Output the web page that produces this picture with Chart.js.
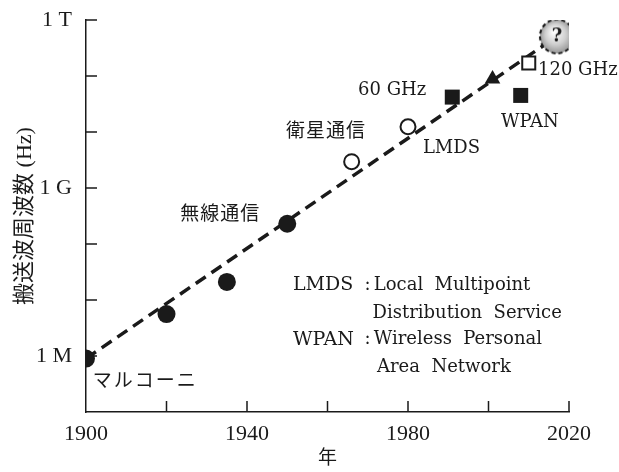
<!DOCTYPE html>
<html>
<head>
<meta charset="utf-8">
<script src="https://cdn.jsdelivr.net/npm/chart.js@4"></script>
<style>
  body { margin: 0; background: #fff; }
</style>
</head>
<body>
<canvas id="freqChart" width="619" height="472"></canvas>
<script>
// values (year, carrier frequency in Hz)
const earlyYears = [1900, 1920, 1935, 1950];
const earlyHz = [9e5, 5.6e6, 2.1e7, 2.3e8];

const satYears = [1966, 1980];
const satHz = [2.95e9, 1.24e10];

const mmYears = [1991, 2008];
const mmHz = [4.2e10, 4.5e10];

const triYears = [2001];
const triHz = [8.8e10];

const ghz120Years = [2010];
const ghz120Hz = [1.7e11];

const futureYears = [2017];
const futureHz = [5.1e11];

const trendYears = [1900, 2017];
const trendHz = [9e5, 5.1e11];

const xTicks = [1900, 1920, 1940, 1960, 1980, 2000, 2020];
const yTicks = [1e5, 1e6, 1e7, 1e8, 1e9, 1e10, 1e11, 1e12];
const yTickLabels = {1e6: '1 M', 1e9: '1 G', 1e12: '1 T'};

const ink = '#1a1a1a';
const serif = "'DejaVu Serif', serif";
const jp = "'Noto Sans CJK JP', sans-serif";

const toPoints = (xs, ys) => xs.map((x, i) => ({x: x, y: ys[i]}));

// the "?" bubble used as a point style
function makeBubble() {
    const c = document.createElement('canvas');
    c.width = 40;
    c.height = 40;
    const g = c.getContext('2d');
    const grad = g.createRadialGradient(17, 15, 1, 20, 20, 18);
    grad.addColorStop(0, '#ffffff');
    grad.addColorStop(0.55, '#cfcfcf');
    grad.addColorStop(1, '#909090');
    g.beginPath();
    g.arc(20, 20, 17, 0, Math.PI * 2);
    g.fillStyle = grad;
    g.fill();
    g.setLineDash([4, 3]);
    g.lineWidth = 2;
    g.strokeStyle = ink;
    g.stroke();
    g.setLineDash([]);
    g.fillStyle = ink;
    g.font = "bold 18px 'DejaVu Serif'";
    g.textAlign = 'center';
    g.textBaseline = 'middle';
    g.fillText('?', 20, 20);
    return c;
}

// labels written on the chart, anchored in data coordinates (year, Hz)
const notes = [
    {text: 'マルコーニ', x: 1901.7, y: Math.pow(10, 5.57), font: '19px ' + jp, spacing: '2px'},
    {text: '無線通信', x: 1923.4, y: Math.pow(10, 8.56), font: '19px ' + jp, spacing: '1px'},
    {text: '衛星通信', x: 1949.7, y: Math.pow(10, 10.04), font: '19px ' + jp, spacing: '1px'},
    {text: '60 GHz', x: 1967.6, y: Math.pow(10, 10.75), font: '18px ' + serif},
    {text: 'LMDS', x: 1983.7, y: Math.pow(10, 9.70), font: '18px ' + serif},
    {text: 'WPAN', x: 2003.1, y: Math.pow(10, 10.18), font: '18px ' + serif},
    {text: '120 GHz', x: 2012.3, y: Math.pow(10, 11.11), font: '18px ' + serif},
    {text: 'LMDS', x: 1951.4, y: Math.pow(10, 7.27), font: '19px ' + serif},
    {text: ':', x: 1969.2, y: Math.pow(10, 7.27), font: '18px ' + serif},
    {text: 'Local  Multipoint', x: 1971.5, y: Math.pow(10, 7.27), font: '18px ' + serif},
    {text: 'Distribution  Service', x: 1971.2, y: Math.pow(10, 6.77), font: '18px ' + serif},
    {text: 'WPAN', x: 1951.4, y: Math.pow(10, 6.29), font: '19px ' + serif},
    {text: ':', x: 1969.2, y: Math.pow(10, 6.29), font: '18px ' + serif},
    {text: 'Wireless  Personal', x: 1971.5, y: Math.pow(10, 6.29), font: '18px ' + serif},
    {text: 'Area  Network', x: 1972.3, y: Math.pow(10, 5.79), font: '18px ' + serif}
];

const inwardTicks = {
    id: 'inwardTicks',
    beforeDatasetsDraw(chart) {
        const {ctx, scales: {x, y}} = chart;
        ctx.save();
        ctx.strokeStyle = ink;
        ctx.lineWidth = 1.5;
        ctx.beginPath();
        xTicks.slice(1).forEach(v => {
            const px = x.getPixelForValue(v);
            ctx.moveTo(px, y.bottom);
            ctx.lineTo(px, y.bottom - 11);
        });
        yTicks.slice(1).forEach(v => {
            const py = y.getPixelForValue(v);
            ctx.moveTo(x.left, py);
            ctx.lineTo(x.left + 11, py);
        });
        ctx.stroke();
        ctx.restore();
    }
};

const noteLabels = {
    id: 'noteLabels',
    afterDatasetsDraw(chart) {
        const {ctx, scales: {x, y}} = chart;
        ctx.save();
        ctx.fillStyle = ink;
        ctx.textBaseline = 'middle';
        ctx.textAlign = 'left';
        notes.forEach(n => {
            ctx.font = n.font;
            ctx.letterSpacing = n.spacing || '0px';
            ctx.fillText(n.text, x.getPixelForValue(n.x), y.getPixelForValue(n.y));
        });
        ctx.restore();
    }
};

new Chart(document.getElementById('freqChart'), {
    type: 'scatter',
    data: {
        datasets: [
            {
                data: toPoints(futureYears, futureHz),
                pointStyle: makeBubble(),
                order: 0
            },
            {
                data: toPoints(earlyYears, earlyHz),
                pointStyle: 'circle',
                pointRadius: 9,
                backgroundColor: ink,
                borderWidth: 0,
                order: 1
            },
            {
                data: toPoints(satYears, satHz),
                pointStyle: 'circle',
                pointRadius: 7.5,
                backgroundColor: '#fff',
                borderColor: ink,
                borderWidth: 2,
                order: 1
            },
            {
                data: toPoints(mmYears, mmHz),
                pointStyle: 'rect',
                pointRadius: 10.6,
                backgroundColor: ink,
                borderWidth: 0,
                order: 1
            },
            {
                data: toPoints(triYears, triHz),
                pointStyle: 'triangle',
                pointRadius: 9,
                backgroundColor: ink,
                borderWidth: 0,
                order: 1
            },
            {
                data: toPoints(ghz120Years, ghz120Hz),
                pointStyle: 'rect',
                pointRadius: 9.2,
                backgroundColor: '#fff',
                borderColor: ink,
                borderWidth: 2,
                order: 1
            },
            {
                type: 'line',
                data: toPoints(trendYears, trendHz),
                borderColor: ink,
                borderWidth: 3.5,
                borderDash: [12, 7],
                pointRadius: 0,
                fill: false,
                order: 5
            }
        ]
    },
    options: {
        responsive: false,
        animation: false,
        layout: {
            padding: {left: 8, top: 20, right: 50, bottom: 0}
        },
        plugins: {
            legend: {display: false},
            tooltip: {enabled: false}
        },
        scales: {
            x: {
                type: 'linear',
                min: 1900,
                max: 2020,
                afterFit: s => { s.height = 60; },
                afterBuildTicks: s => { s.ticks = xTicks.map(v => ({value: v})); },
                grid: {display: false},
                border: {display: true, color: ink, width: 1.5},
                ticks: {
                    autoSkip: false,
                    maxRotation: 0,
                    padding: 1,
                    color: ink,
                    font: {family: "'Liberation Serif', serif", size: 22},
                    callback: v => ((v - 1900) % 40 === 0 ? String(v) : '')
                },
                title: {
                    display: true,
                    text: '年',
                    color: ink,
                    font: {family: jp, size: 19}
                }
            },
            y: {
                type: 'logarithmic',
                min: 1e5,
                max: 1e12,
                afterFit: s => { s.width = 78; },
                afterBuildTicks: s => { s.ticks = yTicks.map(v => ({value: v})); },
                grid: {display: false},
                border: {display: true, color: ink, width: 1.5},
                ticks: {
                    autoSkip: false,
                    padding: 6,
                    color: ink,
                    font: {family: "'Liberation Serif', serif", size: 22},
                    callback: v => yTickLabels[v] || ''
                },
                title: {
                    display: true,
                    text: '搬送波周波数 (Hz)',
                    color: ink,
                    font: {family: "'Liberation Serif', 'Noto Sans CJK JP', serif", size: 22}
                }
            }
        }
    },
    plugins: [inwardTicks, noteLabels]
});
</script>
</body>
</html>
